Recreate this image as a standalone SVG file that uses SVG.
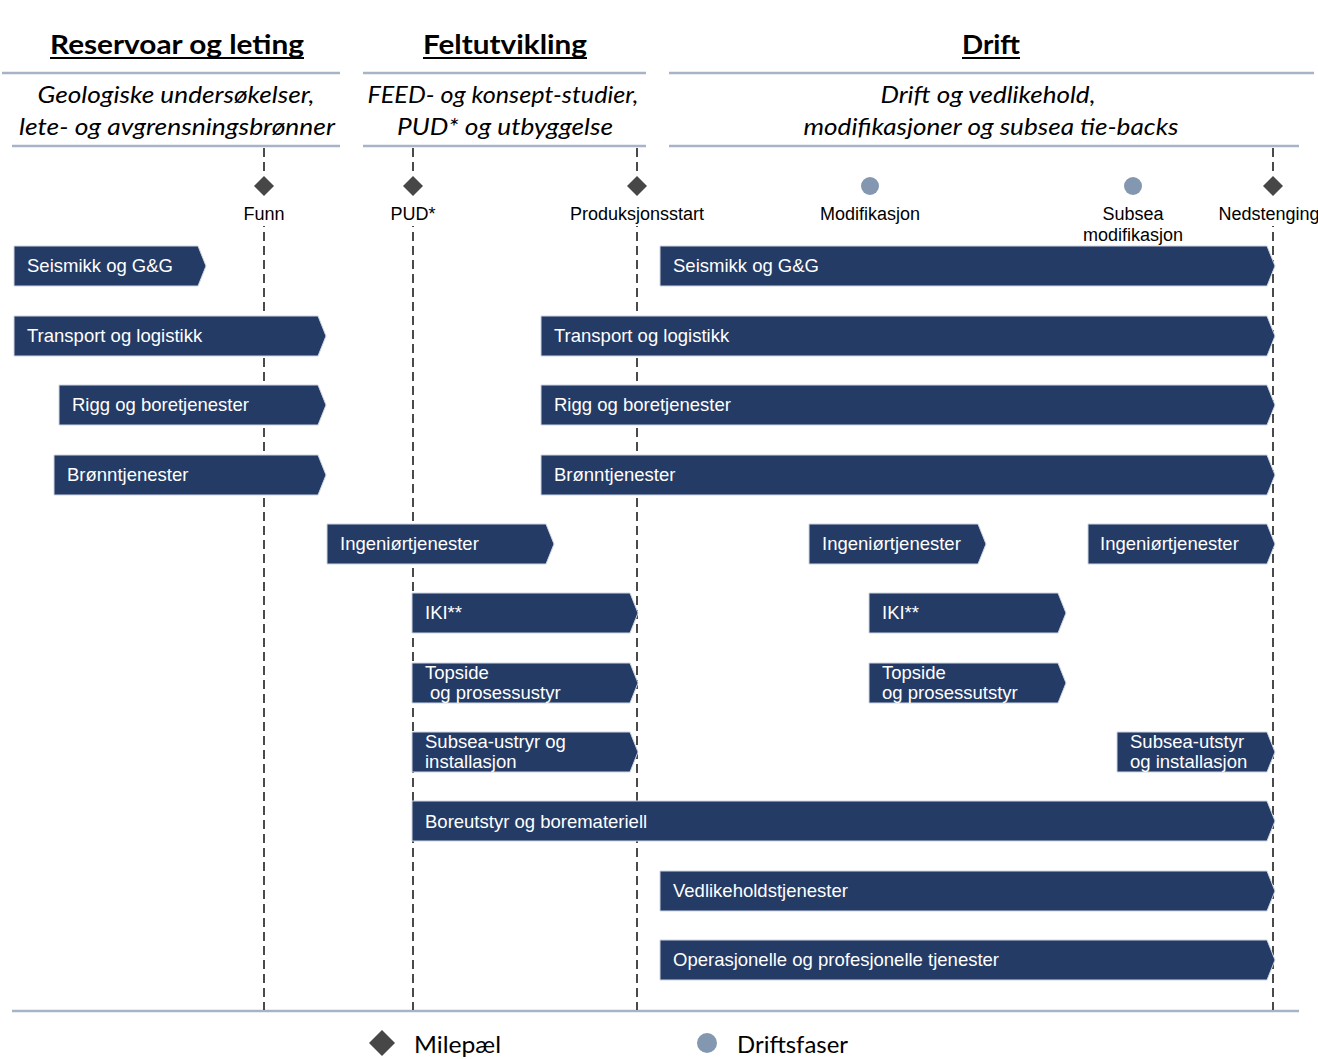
<svg xmlns="http://www.w3.org/2000/svg" width="1318" height="1059" viewBox="0 0 1318 1059">
<style>
.hl{stroke:#a7b4c8;stroke-width:2.5;fill:none}
.dash{stroke:#4a4a4a;stroke-width:2;stroke-dasharray:9 5;fill:none}
.title{font-family:Lato,"Open Sans",sans-serif;font-weight:bold;font-size:27px;fill:#000;text-anchor:middle}
.sub{font-family:Lato,"Open Sans",sans-serif;font-style:italic;font-size:23px;fill:#000;text-anchor:middle}
.ms{font-family:"Liberation Sans",Arial,sans-serif;font-size:18px;fill:#000;text-anchor:middle}
.bar{fill:#243b66;stroke:#cfd6e2;stroke-width:1}
.bt{font-family:"Liberation Sans",Arial,sans-serif;font-size:18.5px;fill:#fff}
.dia{fill:#474747}
.circ{fill:#8497b0}
.leg{font-family:Lato,"Open Sans",sans-serif;font-size:24px;fill:#000}
</style>
<rect width="1318" height="1059" fill="#fff"/>
<g id="headers">
<line class="hl" x1="2" y1="73" x2="340" y2="73"/>
<line class="hl" x1="363" y1="73" x2="646" y2="73"/>
<line class="hl" x1="669" y1="73" x2="1314" y2="73"/>
<line class="hl" x1="12" y1="146" x2="340" y2="146"/>
<line class="hl" x1="363" y1="146" x2="646" y2="146"/>
<line class="hl" x1="669" y1="146" x2="1299" y2="146"/>
<line class="hl" x1="12" y1="1011" x2="1299" y2="1011"/>
<text class="title" x="177" y="54" textLength="254" lengthAdjust="spacingAndGlyphs">Reservoar og leting</text>
<line x1="50" y1="58" x2="304" y2="58" stroke="#000" stroke-width="2"/>
<text class="title" x="505" y="54" textLength="164" lengthAdjust="spacingAndGlyphs">Feltutvikling</text>
<line x1="423" y1="58" x2="587" y2="58" stroke="#000" stroke-width="2"/>
<text class="title" x="991" y="54" textLength="58" lengthAdjust="spacingAndGlyphs">Drift</text>
<line x1="962" y1="58" x2="1020" y2="58" stroke="#000" stroke-width="2"/>
<text class="sub" x="176" y="103" textLength="277" lengthAdjust="spacingAndGlyphs">Geologiske undersøkelser,</text>
<text class="sub" x="177" y="135" textLength="316" lengthAdjust="spacingAndGlyphs">lete- og avgrensningsbrønner</text>
<text class="sub" x="503" y="103" textLength="271" lengthAdjust="spacingAndGlyphs">FEED- og konsept-studier,</text>
<text class="sub" x="505" y="135" textLength="216" lengthAdjust="spacingAndGlyphs">PUD* og utbyggelse</text>
<text class="sub" x="988" y="103" textLength="215" lengthAdjust="spacingAndGlyphs">Drift og vedlikehold,</text>
<text class="sub" x="991" y="135" textLength="375" lengthAdjust="spacingAndGlyphs">modifikasjoner og subsea tie-backs</text>
</g>
<g id="connectors">
<line class="dash" x1="264" y1="148" x2="264" y2="1010"/>
<line class="dash" x1="413" y1="148" x2="413" y2="1010"/>
<line class="dash" x1="637" y1="148" x2="637" y2="1010"/>
<line class="dash" x1="1273" y1="148" x2="1273" y2="1010"/>
</g>
<g id="milestones">
<g id="m-funn"><rect x="238" y="176" width="52" height="50" fill="#fff"/><polygon class="dia" points="264,176 274,186 264,196 254,186"/><text class="ms" x="264" y="220">Funn</text></g>
<g id="m-pud"><rect x="386" y="176" width="54" height="50" fill="#fff"/><polygon class="dia" points="413,176 423,186 413,196 403,186"/><text class="ms" x="413" y="220">PUD*</text></g>
<g id="m-prod"><rect x="565" y="176" width="144" height="50" fill="#fff"/><polygon class="dia" points="637,176 647,186 637,196 627,186"/><text class="ms" x="637" y="220">Produksjonsstart</text></g>
<g id="m-mod"><circle class="circ" cx="870" cy="186" r="9"/><text class="ms" x="870" y="220">Modifikasjon</text></g>
<g id="m-submod"><circle class="circ" cx="1133" cy="186" r="9"/><text class="ms" x="1133" y="220">Subsea</text><text class="ms" x="1133" y="241">modifikasjon</text></g>
<g id="m-ned"><rect x="1216" y="176" width="102" height="50" fill="#fff"/><polygon class="dia" points="1273,176 1283,186 1273,196 1263,186"/><text class="ms" x="1269" y="220">Nedstenging</text></g>
</g>
<g id="bars">
<g id="b1a"><polygon class="bar" points="14,246 198,246 206,266 198,286 14,286"/><text class="bt" x="27" y="272">Seismikk og G&amp;G</text></g>
<g id="b1b"><polygon class="bar" points="660,246 1267,246 1275,266 1267,286 660,286"/><text class="bt" x="673" y="272">Seismikk og G&amp;G</text></g>
<g id="b2a"><polygon class="bar" points="14,316 318,316 326,336 318,356 14,356"/><text class="bt" x="27" y="342">Transport og logistikk</text></g>
<g id="b2b"><polygon class="bar" points="541,316 1267,316 1275,336 1267,356 541,356"/><text class="bt" x="554" y="342">Transport og logistikk</text></g>
<g id="b3a"><polygon class="bar" points="59,385 318,385 326,405 318,425 59,425"/><text class="bt" x="72" y="411">Rigg og boretjenester</text></g>
<g id="b3b"><polygon class="bar" points="541,385 1267,385 1275,405 1267,425 541,425"/><text class="bt" x="554" y="411">Rigg og boretjenester</text></g>
<g id="b4a"><polygon class="bar" points="54,455 318,455 326,475 318,495 54,495"/><text class="bt" x="67" y="481">Brønntjenester</text></g>
<g id="b4b"><polygon class="bar" points="541,455 1267,455 1275,475 1267,495 541,495"/><text class="bt" x="554" y="481">Brønntjenester</text></g>
<g id="b5a"><polygon class="bar" points="327,524 546,524 554,544 546,564 327,564"/><text class="bt" x="340" y="550">Ingeniørtjenester</text></g>
<g id="b5b"><polygon class="bar" points="809,524 978,524 986,544 978,564 809,564"/><text class="bt" x="822" y="550">Ingeniørtjenester</text></g>
<g id="b5c"><polygon class="bar" points="1088,524 1267,524 1275,544 1267,564 1088,564"/><text class="bt" x="1100" y="550">Ingeniørtjenester</text></g>
<g id="b6a"><polygon class="bar" points="412,593 630,593 638,613 630,633 412,633"/><text class="bt" x="425" y="619">IKI**</text></g>
<g id="b6b"><polygon class="bar" points="869,593 1058,593 1066,613 1058,633 869,633"/><text class="bt" x="882" y="619">IKI**</text></g>
<g id="b7a"><polygon class="bar" points="412,663 630,663 638,683 630,703 412,703"/><text class="bt" x="425" y="679">Topside</text><text class="bt" x="430" y="699">og prosessustyr</text></g>
<g id="b7b"><polygon class="bar" points="869,663 1058,663 1066,683 1058,703 869,703"/><text class="bt" x="882" y="679">Topside</text><text class="bt" x="882" y="699">og prosessutstyr</text></g>
<g id="b8a"><polygon class="bar" points="412,732 630,732 638,752 630,772 412,772"/><text class="bt" x="425" y="748">Subsea-ustryr og</text><text class="bt" x="425" y="768">installasjon</text></g>
<g id="b8b"><polygon class="bar" points="1117,732 1267,732 1275,752 1267,772 1117,772"/><text class="bt" x="1130" y="748">Subsea-utstyr</text><text class="bt" x="1130" y="768">og installasjon</text></g>
<g id="b9"><polygon class="bar" points="412,801 1267,801 1275,821 1267,841 412,841"/><text class="bt" x="425" y="828">Boreutstyr og boremateriell</text></g>
<g id="b10"><polygon class="bar" points="660,871 1267,871 1275,891 1267,911 660,911"/><text class="bt" x="673" y="897">Vedlikeholdstjenester</text></g>
<g id="b11"><polygon class="bar" points="660,940 1267,940 1275,960 1267,980 660,980"/><text class="bt" x="673" y="966">Operasjonelle og profesjonelle tjenester</text></g>
</g>
<g id="legend">
<polygon class="dia" points="382,1030 395,1043 382,1056 369,1043"/>
<text class="leg" x="414" y="1053" textLength="87" lengthAdjust="spacingAndGlyphs">Milepæl</text>
<circle class="circ" cx="707" cy="1043" r="10"/>
<text class="leg" x="737" y="1053" textLength="111" lengthAdjust="spacingAndGlyphs">Driftsfaser</text>
</g>
</svg>
